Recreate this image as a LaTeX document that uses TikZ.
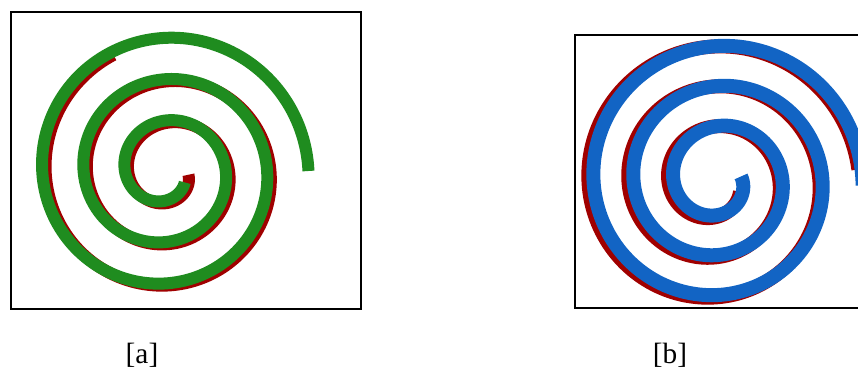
\documentclass[tikz,border=0pt]{standalone}
\usepackage{fontspec}
\setmainfont{Liberation Serif}
\definecolor{spgreen}{RGB}{31,140,31}
\definecolor{spred}{RGB}{160,0,0}
\definecolor{spblue}{RGB}{18,100,196}
\begin{document}
\begin{tikzpicture}[x=0.75pt,y=-0.75pt,
  frame/.style={draw=black,line width=1.1pt},
  gband/.style={line width=9pt},
  bband/.style={line width=10.5pt},
  caption/.style={font=\fontsize{22}{25}\selectfont,anchor=base,inner sep=0pt}]
\useasboundingbox (0,0) rectangle (858,368);
% frames
\draw[frame] (11,12) rectangle (361,309);
\draw[frame] (575,35) rectangle (900,308);
% left spiral: red shadow then green
\draw[spred,gband] plot[domain=5:965,samples=500,variable=\t]
  ({168.5+(19.4+\t*10.34/90)*cos(\t)},{173+(19.4+\t*10.34/90)*sin(\t)});
\draw[spgreen,gband] plot[domain=30:1080,samples=500,variable=\t]
  ({165+(19.4+\t*10.34/90)*cos(\t)},{171+(19.4+\t*10.34/90)*sin(\t)});
% right spiral: red shadow then blue
\draw[spred,bband] plot[domain=20:1075,samples=500,variable=\t]
  ({714+(25.5+\t*10/90)*cos(\t)},{182+(25.5+\t*10/90)*sin(\t)});
\draw[spblue,bband] plot[domain=-10:1082,samples=500,variable=\t]
  ({718+(24.5+\t*10/90)*cos(\t)},{180.5+(24.5+\t*10/90)*sin(\t)});
% captions
\node[caption] (capa) at (142,363) {[a]};
\node[caption] (capb) at (670,363) {[b]};
\end{tikzpicture}
\end{document}
